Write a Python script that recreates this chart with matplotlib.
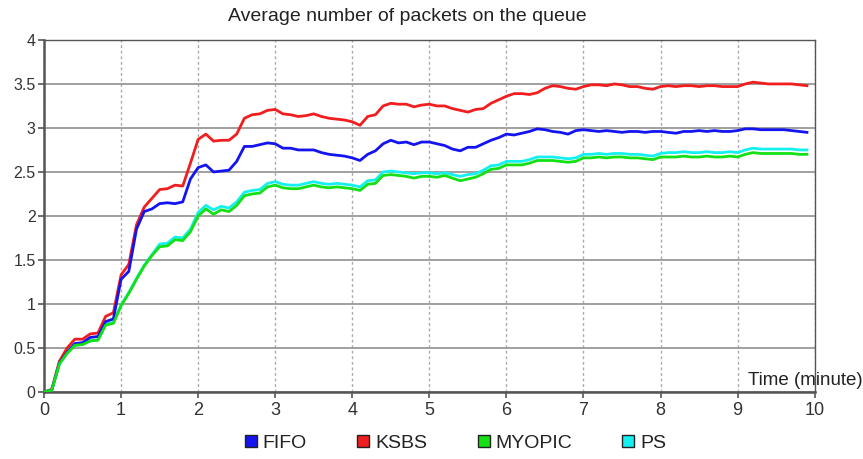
import numpy as np
import matplotlib.pyplot as plt
from matplotlib.lines import Line2D
from matplotlib.ticker import FormatStrFormatter

# Tempo in minuti (campionamento ogni 0.1 min)
time_min = np.round(np.arange(0, 10.0, 0.1), 1)

fifo = [0.00, 0.02, 0.33, 0.45, 0.55, 0.56, 0.62, 0.63, 0.80, 0.83,
        1.28, 1.37, 1.85, 2.05, 2.08, 2.14, 2.15, 2.14, 2.16, 2.42,
        2.55, 2.58, 2.50, 2.51, 2.52, 2.62, 2.79, 2.79, 2.81, 2.83,
        2.82, 2.77, 2.77, 2.75, 2.75, 2.75, 2.72, 2.70, 2.69, 2.68,
        2.66, 2.63, 2.70, 2.74, 2.82, 2.86, 2.83, 2.84, 2.81, 2.84,
        2.84, 2.82, 2.80, 2.76, 2.74, 2.78, 2.78, 2.82, 2.86, 2.89,
        2.93, 2.92, 2.94, 2.96, 2.99, 2.98, 2.96, 2.95, 2.93, 2.97,
        2.98, 2.97, 2.96, 2.97, 2.96, 2.95, 2.96, 2.96, 2.95, 2.96,
        2.96, 2.95, 2.94, 2.96, 2.96, 2.97, 2.96, 2.97, 2.96, 2.96,
        2.97, 2.99, 2.99, 2.98, 2.98, 2.98, 2.98, 2.97, 2.96, 2.95]

ksbs = [0.00, 0.03, 0.35, 0.50, 0.60, 0.60, 0.66, 0.67, 0.86, 0.90,
        1.33, 1.45, 1.90, 2.10, 2.20, 2.30, 2.31, 2.35, 2.34, 2.60,
        2.87, 2.93, 2.85, 2.86, 2.86, 2.93, 3.11, 3.15, 3.16, 3.20,
        3.21, 3.16, 3.15, 3.13, 3.14, 3.16, 3.13, 3.11, 3.10, 3.09,
        3.07, 3.03, 3.13, 3.15, 3.25, 3.28, 3.27, 3.27, 3.24, 3.26,
        3.27, 3.25, 3.25, 3.22, 3.20, 3.18, 3.21, 3.22, 3.28, 3.32,
        3.36, 3.39, 3.39, 3.38, 3.40, 3.45, 3.48, 3.47, 3.45, 3.44,
        3.47, 3.49, 3.49, 3.48, 3.50, 3.49, 3.47, 3.47, 3.45, 3.44,
        3.47, 3.48, 3.47, 3.48, 3.48, 3.47, 3.48, 3.48, 3.47, 3.47,
        3.47, 3.50, 3.52, 3.51, 3.50, 3.50, 3.50, 3.50, 3.49, 3.48]

myopic = [0.00, 0.02, 0.32, 0.44, 0.53, 0.54, 0.58, 0.59, 0.76, 0.78,
          0.98, 1.12, 1.28, 1.43, 1.55, 1.65, 1.66, 1.73, 1.72, 1.82,
          2.00, 2.08, 2.02, 2.07, 2.05, 2.12, 2.23, 2.25, 2.26, 2.33,
          2.35, 2.32, 2.31, 2.31, 2.33, 2.35, 2.33, 2.32, 2.33, 2.32,
          2.31, 2.29, 2.36, 2.37, 2.46, 2.47, 2.46, 2.45, 2.43, 2.45,
          2.45, 2.44, 2.46, 2.43, 2.40, 2.42, 2.44, 2.48, 2.53, 2.54,
          2.58, 2.58, 2.58, 2.60, 2.63, 2.63, 2.63, 2.62, 2.61, 2.62,
          2.66, 2.66, 2.67, 2.66, 2.67, 2.67, 2.66, 2.66, 2.65, 2.64,
          2.67, 2.67, 2.67, 2.68, 2.67, 2.67, 2.68, 2.67, 2.67, 2.68,
          2.67, 2.70, 2.72, 2.71, 2.71, 2.71, 2.71, 2.71, 2.70, 2.70]

ps = [0.00, 0.02, 0.32, 0.44, 0.53, 0.54, 0.58, 0.59, 0.77, 0.79,
      0.99, 1.13, 1.29, 1.44, 1.56, 1.68, 1.69, 1.76, 1.75, 1.85,
      2.04, 2.12, 2.07, 2.11, 2.09, 2.16, 2.27, 2.29, 2.30, 2.37,
      2.39, 2.36, 2.35, 2.35, 2.37, 2.39, 2.37, 2.36, 2.37, 2.36,
      2.35, 2.33, 2.40, 2.41, 2.50, 2.51, 2.50, 2.49, 2.48, 2.49,
      2.49, 2.48, 2.49, 2.47, 2.45, 2.47, 2.48, 2.52, 2.57, 2.58,
      2.62, 2.62, 2.62, 2.64, 2.67, 2.67, 2.67, 2.66, 2.65, 2.66,
      2.70, 2.70, 2.71, 2.70, 2.71, 2.71, 2.70, 2.70, 2.69, 2.68,
      2.71, 2.72, 2.72, 2.73, 2.72, 2.72, 2.73, 2.72, 2.72, 2.73,
      2.72, 2.75, 2.77, 2.76, 2.76, 2.76, 2.76, 2.76, 2.75, 2.75]

series_names = ['FIFO', 'KSBS', 'MYOPIC', 'PS']
colors = ['#1414f0', '#f01e1e', '#14e014', '#14f0f0']

plt.rcParams['font.family'] = ['Liberation Sans', 'DejaVu Sans']

fig = plt.figure(figsize=(8.63, 4.59), dpi=100)
ax = fig.add_axes([0.051, 0.146, 0.893, 0.767])

# Ordine di disegno: KSBS, FIFO, PS, MYOPIC
ax.plot(time_min, ksbs, color=colors[1], linewidth=2.0, zorder=3)
ax.plot(time_min, fifo, color=colors[0], linewidth=2.0, zorder=4)
ax.plot(time_min, ps, color=colors[3], linewidth=2.0, zorder=3)
ax.plot(time_min, myopic, color=colors[2], linewidth=2.0, zorder=4)

ax.set_xlim(0, 10)
ax.set_ylim(0, 4)
ax.set_xticks(np.arange(0, 11, 1))
ax.set_yticks(np.arange(0, 4.01, 0.5))
ax.yaxis.set_major_formatter(FormatStrFormatter('%g'))

# Griglia: orizzontale continua, verticale a puntini
ax.grid(axis='y', color='#999999', linewidth=1.3, linestyle='-', zorder=1)
ax.grid(axis='x', color='#aaaaaa', linewidth=1.0, linestyle=(0, (2, 2)), zorder=1)
ax.set_axisbelow(True)

for side in ['left', 'bottom']:
    ax.spines[side].set_color('#555555')
    ax.spines[side].set_linewidth(1.8)
for side in ['top', 'right']:
    ax.spines[side].set_color('#555555')
    ax.spines[side].set_linewidth(1.0)

ax.tick_params(axis='both', direction='out', length=4, width=1.2, color='#555555',
               labelsize=11.5, labelcolor='#333333')
ax.tick_params(axis='x', labelsize=13, pad=3)
ax.tick_params(axis='y', pad=2)

fig.text(0.4716, 0.963, 'Average number of packets on the queue', ha='center', va='center',
         fontsize=14, color='#222222')
fig.text(0.999, 0.170, 'Time (minute)', ha='right', va='center', fontsize=13.5, color='#222222')

handles = [Line2D([], [], linestyle='none', marker='s', markersize=8,
                  markerfacecolor=c, markeredgecolor='#222222', markeredgewidth=1.0)
           for c in colors]
fig.legend(handles, series_names, loc='center', bbox_to_anchor=(0.528, 0.035), ncol=4,
           frameon=False, fontsize=14, handlelength=0.6, handletextpad=0.3,
           columnspacing=2.6, labelcolor='#222222')

plt.savefig('out.png', dpi=100)
